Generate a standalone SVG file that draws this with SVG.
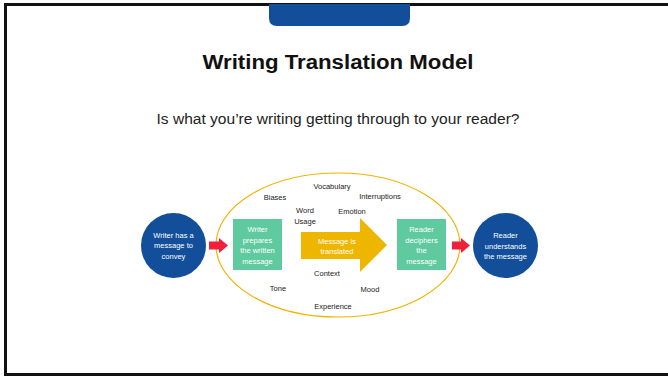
<svg xmlns="http://www.w3.org/2000/svg" width="668" height="378" viewBox="0 0 668 378">
<style>
.lbl{font-family:"Liberation Sans",Arial,sans-serif;font-size:7.5px;fill:#222;text-anchor:middle}
.wt{font-family:"Liberation Sans",Arial,sans-serif;font-size:7.5px;fill:#fff;text-anchor:middle}
.circ{fill:#124E9A}
.box{fill:#5FC9A0}
.red{fill:#F0203A}
</style>
<rect x="0" y="0" width="668" height="378" fill="#fff"/>
<rect x="5.5" y="4.5" width="670" height="370" fill="none" stroke="#111" stroke-width="3"/>
<path d="M269 4 H410 V18 Q410 26 402 26 H277 Q269 26 269 18 Z" fill="#124E9A"/>
<text x="338" y="69" font-family="Liberation Sans,Arial,sans-serif" font-weight="bold" font-size="20" text-anchor="middle" textLength="271" lengthAdjust="spacingAndGlyphs" fill="#111">Writing Translation Model</text>
<text x="338" y="124" font-family="Liberation Sans,Arial,sans-serif" font-size="14" text-anchor="middle" textLength="363" lengthAdjust="spacingAndGlyphs" fill="#222">Is what you’re writing getting through to your reader?</text>

<g id="ellipse"><ellipse cx="338" cy="245" rx="122" ry="72" fill="none" stroke="#F0B400" stroke-width="1.2"/></g>

<g id="labels">
<text class="lbl" x="332" y="188.5">Vocabulary</text>
<text class="lbl" x="380" y="198.5">Interruptions</text>
<text class="lbl" x="275" y="199.5">Biases</text>
<text class="lbl" x="305" y="212.5">Word</text>
<text class="lbl" x="305" y="223.5">Usage</text>
<text class="lbl" x="352" y="213.5">Emotion</text>
<text class="lbl" x="327" y="275.5">Context</text>
<text class="lbl" x="278" y="290.5">Tone</text>
<text class="lbl" x="370" y="291.5">Mood</text>
<text class="lbl" x="333" y="308.5">Experience</text>
</g>

<g id="writer">
<circle class="circ" cx="173.5" cy="245.5" r="32.5"/>
<text class="wt" x="173.5" y="237.5">Writer has a</text>
<text class="wt" x="173.5" y="248">message to</text>
<text class="wt" x="173.5" y="258.5">convey</text>
</g>

<g id="prepare">
<rect class="box" x="233" y="219" width="49" height="51"/>
<text class="wt" x="257.5" y="232">Writer</text>
<text class="wt" x="257.5" y="242.5">prepares</text>
<text class="wt" x="257.5" y="253">the written</text>
<text class="wt" x="257.5" y="263.5">message</text>
</g>

<g id="translate">
<path d="M301 232 H360 V218 L387 245 L360 272 V259 H301 Z" fill="#EFB600"/>
<text class="wt" x="337" y="243.5">Message is</text>
<text class="wt" x="337" y="253.5">translated</text>
</g>

<g id="decipher">
<rect class="box" x="397" y="219" width="49" height="51"/>
<text class="wt" x="421.5" y="232">Reader</text>
<text class="wt" x="421.5" y="242.5">deciphers</text>
<text class="wt" x="421.5" y="253">the</text>
<text class="wt" x="421.5" y="263.5">message</text>
</g>

<g id="reader">
<circle class="circ" cx="505.5" cy="245.5" r="32.5"/>
<text class="wt" x="505.5" y="238">Reader</text>
<text class="wt" x="505.5" y="248.5">understands</text>
<text class="wt" x="505.5" y="259">the message</text>
</g>

<g id="connectors">
<path class="red" d="M209 241.5 H219 V238 L228 245.5 L219 253 V249.5 H209 Z"/>
<path class="red" d="M452 241.5 H461 V238 L470 245.5 L461 253 V249.5 H452 Z"/>
</g>
</svg>
